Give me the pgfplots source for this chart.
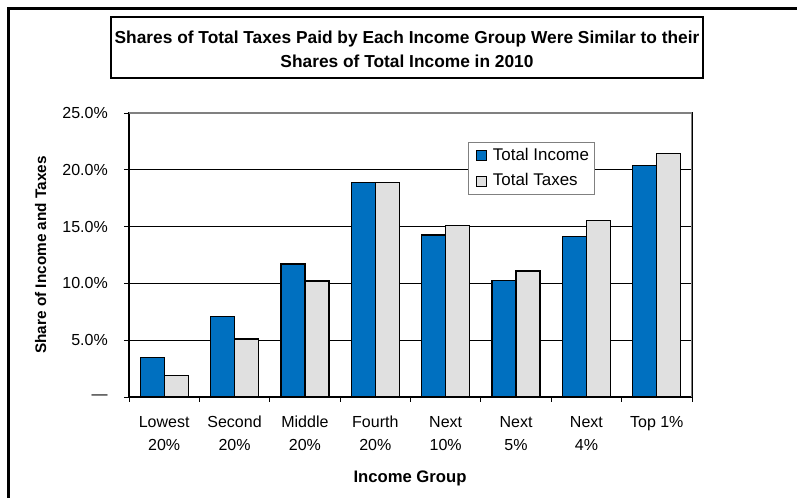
\documentclass[border=0pt]{standalone}
\usepackage{pgfplots}
\pgfplotsset{compat=1.18}
\usepackage{fontspec}
\setmainfont{Liberation Sans}
\definecolor{incblue}{RGB}{0,112,192}
\definecolor{taxgray}{RGB}{224,224,224}
\definecolor{bordgray}{RGB}{128,128,128}
\pgfplotstableread{
x income tax
0 3.46 1.9
1 7.06 5.1
2 11.7 10.2
3 18.9 18.9
4 14.26 15.1
5 10.25 11.1
6 14.1 15.55
7 20.4 21.45
}\datatable
\begin{document}
\begin{tikzpicture}
\useasboundingbox (0,0) rectangle (597.75pt,373.5pt);
\begin{axis}[
  at={(96.75pt,75.75pt)}, anchor=south west,
  scale only axis, width=422.25pt, height=213pt,
  xmin=-0.5, xmax=7.5, ymin=0, ymax=25,
  ybar=0pt, bar width=18pt,
  xtick={-0.5,0.5,...,7.5},
  x tick label as interval,
  xticklabels={Lowest\\20\%,Second\\20\%,Middle\\20\%,Fourth\\20\%,Next\\10\%,Next\\5\%,Next\\4\%,Top 1\%},
  ytick={0,5,10,15,20,25},
  yticklabels={---\hspace{5pt},5.0\%,10.0\%,15.0\%,20.0\%,25.0\%},
  xtick pos=left, ytick pos=left,
  tick align=outside, major tick length=3.75pt,
  tick style={black, line width=0.6pt},
  ymajorgrids, grid style={black, line width=0.6pt},
  axis line style={black, line width=0.9pt},
  xticklabel style={font=\fontsize{12}{17.25}\selectfont, align=center, anchor=north, inner sep=0pt, yshift=-10.5pt},
  yticklabel style={font=\fontsize{12}{14}\selectfont, anchor=east, inner sep=0pt, xshift=-12pt},
  legend style={at={(rel axis cs:0.6016,0.897)}, anchor=north west, draw=bordgray, line width=0.9pt, fill=white,
    font=\fontsize{12.7}{14}\selectfont, row sep=3.8pt, inner sep=2pt,
    nodes={inner sep=2pt, text height=9pt, text depth=2.5pt}},
  legend cell align=left,
]
\addplot[fill=incblue, draw=black, line width=1pt,
  legend image code/.code={\path (0pt,0pt) (13.5pt,0pt);
    \draw[fill=incblue, draw=black, line width=0.8pt] (3.75pt,-3.75pt) rectangle (11.25pt,3.75pt);}]
  table[x=x, y=income] {\datatable};
\addplot[fill=taxgray, draw=black, line width=1pt,
  legend image code/.code={\path (0pt,0pt) (13.5pt,0pt);
    \draw[fill=taxgray, draw=black, line width=0.8pt] (3.75pt,-3.75pt) rectangle (11.25pt,3.75pt);}]
  table[x=x, y=tax] {\datatable};
\legend{Total Income, Total Taxes}
\draw[bordgray, line width=1.2pt] (rel axis cs:0,1) -- (rel axis cs:1,1) -- (rel axis cs:1,0);
\end{axis}
\draw[line width=1pt] (83.25pt,315pt) rectangle (527.25pt,360.75pt);
\node[align=center, inner sep=0pt, font=\bfseries\fontsize{13}{18}\selectfont] at (305.25pt,336.5pt)
  {Shares of Total Taxes Paid by Each Income Group Were Similar to their\\Shares of Total Income in 2010};
\node[rotate=90, font=\bfseries\fontsize{11.5}{14}\selectfont] at (30.5pt,182.25pt) {Share of Income and Taxes};
\node[font=\bfseries\fontsize{12.5}{14}\selectfont] at (307.5pt,15pt) {Income Group};
\draw[line width=2.25pt] (6.375pt,-10pt) rectangle (610pt,367.125pt);
\end{tikzpicture}
\end{document}
